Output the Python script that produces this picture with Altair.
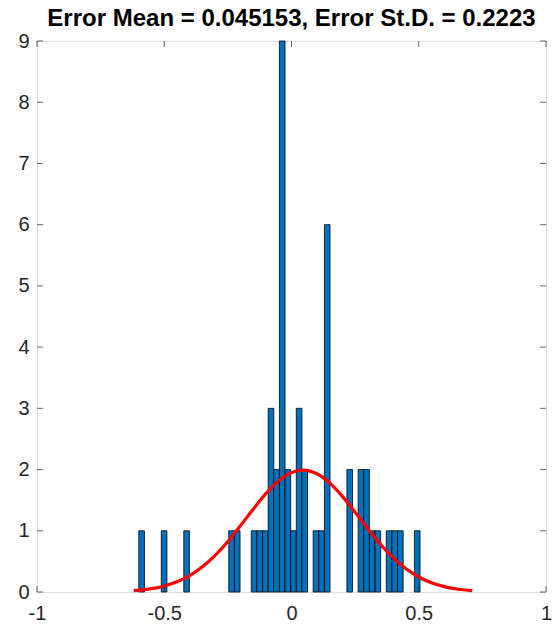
import altair as alt
import pandas as pd

# Histogram bins (left edge of each non-empty bin) and counts
bin_start = [-0.600, -0.5116, -0.4232, -0.2464, -0.2243, -0.158, -0.1359, -0.1138,
             -0.0917, -0.0696, -0.0475, -0.0254, -0.0033, 0.0188, 0.0409, 0.0851,
             0.1072, 0.1293, 0.2177, 0.2619, 0.2840, 0.3061, 0.3282, 0.3724,
             0.3945, 0.4166, 0.4829]
counts = [1, 1, 1, 1, 1, 1, 1, 1,
          3, 2, 9, 2, 1, 3, 2, 1,
          1, 6, 2, 2, 2, 1, 1, 1,
          1, 1, 1]
bin_width = 0.0221

# Fitted normal curve
fit_x = [-0.62, -0.55, -0.50, -0.45, -0.40, -0.35, -0.30, -0.25, -0.20, -0.15, -0.10,
         -0.05, 0.00, 0.045, 0.10, 0.15, 0.20, 0.25, 0.30, 0.35, 0.40, 0.45, 0.50,
         0.55, 0.60, 0.65, 0.71]
fit_y = [0.023, 0.055, 0.099, 0.167, 0.269, 0.411, 0.598, 0.826, 1.086, 1.356, 1.610,
         1.818, 1.952, 1.992, 1.932, 1.782, 1.562, 1.302, 1.032, 0.777, 0.557, 0.379,
         0.245, 0.151, 0.088, 0.049, 0.023]

x_ticks = [-1, -0.5, 0, 0.5, 1]
y_ticks = [0, 1, 2, 3, 4, 5, 6, 7, 8, 9]
title_text = "Error Mean = 0.045153, Error St.D. = 0.2223"

W, H = 509, 551
AX = "#262626"
FONT = "Liberation Sans"

bars_df = pd.DataFrame({"start": bin_start, "count": counts})
fit_df = pd.DataFrame({"x": fit_x, "y": fit_y})
xt_df = pd.DataFrame({"v": x_ticks})
yt_df = pd.DataFrame({"v": y_ticks})

xs = alt.Scale(domain=[-1, 1], nice=False, zero=False)
ys = alt.Scale(domain=[0, 9], nice=False, zero=False)

x_axis = alt.Axis(values=x_ticks, labelExpr="'' + datum.value", ticks=False, domain=False,
                  grid=False, title=None, labelFont=FONT, labelFontSize=20,
                  labelColor=AX, labelPadding=11, labelFlush=False)
y_axis = alt.Axis(values=y_ticks, labelExpr="'' + datum.value", ticks=False, domain=False,
                  grid=False, title=None, labelFont=FONT, labelFontSize=20,
                  labelColor=AX, labelPadding=8, labelFlush=False)

bars = alt.Chart(bars_df).transform_calculate(
    end=f"datum.start + {bin_width}", zero="0"
).mark_rect(color="#0072BD", stroke="#000000", strokeWidth=0.8).encode(
    x=alt.X("start:Q", scale=xs, axis=x_axis),
    x2="end:Q",
    y=alt.Y("count:Q", scale=ys, axis=y_axis),
    y2="zero:Q",
)

curve = alt.Chart(fit_df).mark_line(color="#FF0000", strokeWidth=3.2, interpolate="monotone").encode(
    x=alt.X("x:Q", scale=xs),
    y=alt.Y("y:Q", scale=ys),
)

xt_bottom = alt.Chart(xt_df).mark_tick(size=6, thickness=1, color=AX).encode(
    x=alt.X("v:Q", scale=xs), y=alt.value(H - 3))
xt_top = alt.Chart(xt_df).mark_tick(size=6, thickness=1, color=AX).encode(
    x=alt.X("v:Q", scale=xs), y=alt.value(3))
yt_left = alt.Chart(yt_df).mark_tick(size=6, thickness=1, color=AX).encode(
    y=alt.Y("v:Q", scale=ys), x=alt.value(3))
yt_right = alt.Chart(yt_df).mark_tick(size=6, thickness=1, color=AX).encode(
    y=alt.Y("v:Q", scale=ys), x=alt.value(W - 3))

chart = alt.layer(bars, curve, xt_bottom, xt_top, yt_left, yt_right).properties(
    width=W, height=H,
    title=alt.Title(title_text, fontSize=24, fontWeight="bold", font=FONT, color="#000000",
                    anchor="middle", offset=0),
    padding={"left": 37, "top": 41, "right": 12, "bottom": 39},
    autosize=alt.AutoSizeParams(type="none"),
).configure_view(stroke=AX, strokeWidth=1.2).configure(background="white")

chart.save("out.html", embed_options={"renderer": "svg", "actions": False})
